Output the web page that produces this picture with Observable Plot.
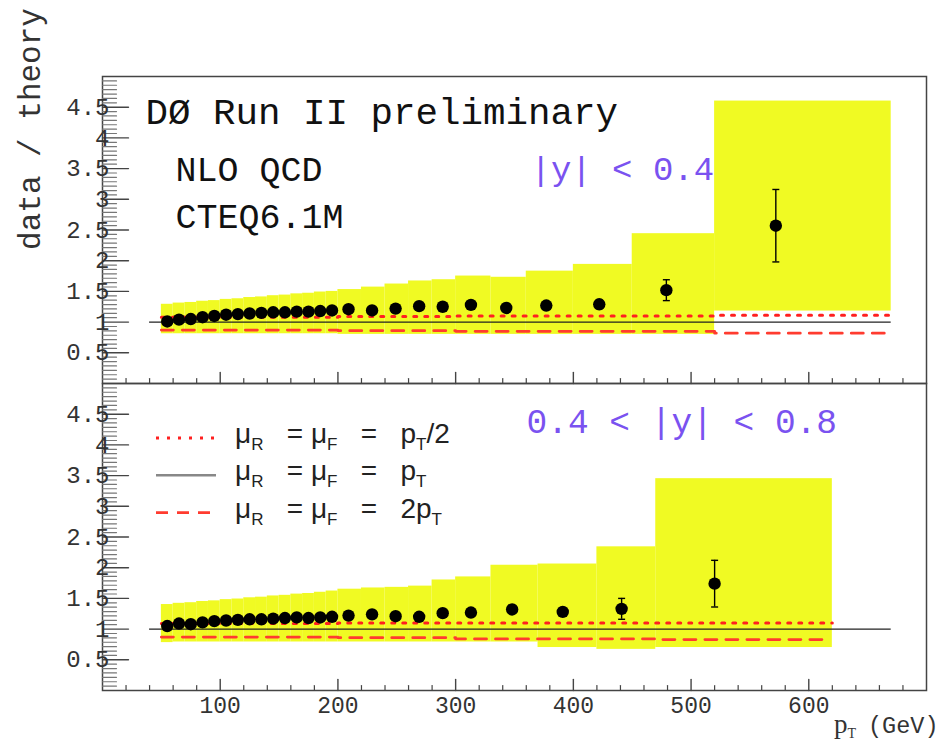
<!DOCTYPE html>
<html><head><meta charset="utf-8">
<script src="https://cdn.jsdelivr.net/npm/d3@7"></script>
<script src="https://cdn.jsdelivr.net/npm/@observablehq/plot@0.6"></script>
<style>
body{margin:0;background:#fff;}
#chart{width:940px;}
#chart svg{display:block;overflow:visible;}
</style></head><body><div id="chart"></div>
<script>
const MONO = "Liberation Mono, DejaVu Sans Mono, monospace";
const YELLOW = "#f0fa23";
const BLUE = "#7a52f0";

// ---------- top panel: |y| < 0.4 ----------
const topBinEdges = [50,60,70,80,90,100,110,120,130,140,150,160,170,180,190,200,220,240,260,280,300,330,360,400,450,520,670];
const topBandHigh = [1.29,1.31,1.32,1.34,1.35,1.37,1.38,1.40,1.41,1.43,1.44,1.46,1.47,1.49,1.50,1.53,1.57,1.62,1.67,1.69,1.75,1.73,1.83,1.94,2.44,4.60];
const topBandLow  = [0.81,0.81,0.81,0.81,0.81,0.81,0.81,0.81,0.81,0.81,0.81,0.81,0.81,0.81,0.81,0.80,0.80,0.80,0.80,0.80,0.80,0.80,0.80,0.80,0.80,1.18];
const topPt    = [55,65,75,85,95,105,115,125,135,145,155,165,175,185,195,209,229,249,269,289,313,343,377,422,479,572];
const topRatio = [1.01,1.04,1.05,1.08,1.10,1.12,1.13,1.14,1.15,1.16,1.16,1.17,1.17,1.18,1.19,1.21,1.19,1.22,1.26,1.25,1.28,1.23,1.27,1.29,1.52,2.57];
const topErr   = [0.01,0.01,0.01,0.01,0.01,0.01,0.01,0.01,0.01,0.01,0.01,0.01,0.01,0.01,0.01,0.02,0.02,0.02,0.02,0.03,0.03,0.04,0.05,0.07,0.17,0.59];
const topHalfEdges = [50,200,300,520,670];
const topHalfVals  = [1.08,1.09,1.10,1.11];
const topTwoEdges  = [50,200,300,520,670];
const topTwoVals   = [0.87,0.86,0.85,0.82];

// ---------- bottom panel: 0.4 < |y| < 0.8 ----------
const botBinEdges = [50,60,70,80,90,100,110,120,130,140,150,160,170,180,190,200,220,240,260,280,300,330,370,420,470,620];
const botBandHigh = [1.40,1.42,1.43,1.45,1.46,1.48,1.49,1.51,1.52,1.54,1.55,1.57,1.58,1.60,1.62,1.65,1.67,1.68,1.70,1.80,1.85,2.04,2.06,2.34,3.45];
const botBandLow  = [0.78,0.79,0.79,0.79,0.79,0.79,0.79,0.79,0.79,0.79,0.79,0.79,0.79,0.79,0.79,0.79,0.79,0.79,0.79,0.79,0.79,0.79,0.70,0.67,0.70];
const botPt    = [55,65,75,85,95,105,115,125,135,145,155,165,175,185,195,209,229,249,269,289,313,348,391,441,520];
const botRatio = [1.05,1.09,1.08,1.11,1.13,1.14,1.15,1.16,1.16,1.17,1.18,1.19,1.18,1.19,1.20,1.22,1.24,1.21,1.20,1.26,1.27,1.32,1.28,1.33,1.74];
const botErr   = [0.01,0.01,0.01,0.01,0.01,0.01,0.01,0.01,0.01,0.01,0.01,0.01,0.01,0.01,0.01,0.02,0.02,0.02,0.02,0.03,0.03,0.05,0.06,0.17,0.38];
const botHalfEdges = [50,200,300,470,620];
const botHalfVals  = [1.09,1.10,1.10,1.10];
const botTwoEdges  = [50,200,300,470,615];
const botTwoVals   = [0.87,0.86,0.84,0.83];

const refLine = [40, 670];
const xDomain = [0, 700];
const yDomain = [0, 5];
const xMajor = [100,200,300,400,500,600];
const xMinor = [20,40,60,80,120,140,160,180,220,240,260,280,320,340,360,380,420,440,460,480,520,540,560,580,620,640,660,680];
const yMajor = [0.5,1,1.5,2,2.5,3,3.5,4,4.5];
const yMinor = d3.range(1, 70).filter(k => k % 7 !== 0).map(k => k * 0.5 / 7);

const capSymbol = { draw(ctx, size) { const r = Math.sqrt(size / Math.PI); ctx.moveTo(-r, 0); ctx.lineTo(r, 0); } };
const tickShape = { draw(ctx, l) { ctx.moveTo(0, 0); ctx.lineTo(0, -l); } };

function stepData(edges, vals) {
  return edges.map((x, i) => ({x, y: vals[Math.min(i, vals.length - 1)]}));
}

function panel(o) {
  const bins = o.lo.map((l, i) => ({x1: o.edges[i], x2: o.edges[i + 1], y1: l, y2: o.hi[i]}));
  const pts = o.pt.map((p, i) => ({x: p, y: o.ratio[i], e: o.err[i]}));
  const marks = [
    Plot.rect(bins, {x1: "x1", x2: "x2", y1: "y1", y2: "y2", fill: YELLOW}),
    Plot.ruleY([1], {x1: refLine[0], x2: refLine[1], stroke: "#222", strokeWidth: 1.4}),
    Plot.line(stepData(o.halfEdges, o.halfVals), {x: "x", y: "y", curve: "step-after", stroke: "#ff2020", strokeWidth: 3, strokeDasharray: "3 8"}),
    Plot.line(stepData(o.twoEdges, o.twoVals), {x: "x", y: "y", curve: "step-after", stroke: "#ff3b2f", strokeWidth: 2.8, strokeDasharray: "12 9"}),
    Plot.ruleX(pts, {x: "x", y1: d => d.y - d.e, y2: d => d.y + d.e, stroke: "#000", strokeWidth: 1.4}),
    Plot.dot(pts, {x: "x", y: d => d.y + d.e, symbol: capSymbol, r: 3.5, fill: "none", stroke: "#000", strokeWidth: 1.4}),
    Plot.dot(pts, {x: "x", y: d => d.y - d.e, symbol: capSymbol, r: 3.5, fill: "none", stroke: "#000", strokeWidth: 1.4}),
    Plot.dot(pts, {x: "x", y: "y", r: 6.2, fill: "#000", stroke: "none"}),
    Plot.frame({stroke: "#444", strokeWidth: 1.5}),
    // inward ticks on the left axis
    Plot.vector(yMinor, {x: () => xDomain[0], y: d => d, rotate: 90, length: 14, anchor: "start", shape: tickShape, stroke: "#777", strokeWidth: 1.2}),
    Plot.vector(yMajor, {x: () => xDomain[0], y: d => d, rotate: 90, length: 26, anchor: "start", shape: tickShape, stroke: "#444", strokeWidth: 1.4}),
    // inward ticks on the bottom axis
    Plot.vector(xMinor, {x: d => d, y: () => yDomain[0], rotate: 0, length: 5, anchor: "start", shape: tickShape, stroke: "#444", strokeWidth: 1.2}),
    Plot.vector(xMajor, {x: d => d, y: () => yDomain[0], rotate: 0, length: 11, anchor: "start", shape: tickShape, stroke: "#444", strokeWidth: 1.4}),
    Plot.axisY(yMajor, {anchor: "left", tickSize: 0, tickPadding: -7, label: null, fontFamily: MONO, fontSize: 24, fill: "#333", tickFormat: d => String(d)}),
    ...o.extra
  ];
  return Plot.plot({
    width: 940, height: o.height,
    marginLeft: 102, marginRight: 14, marginTop: o.marginTop, marginBottom: o.marginBottom,
    style: {background: "transparent", overflow: "visible"},
    x: {domain: xDomain},
    y: {domain: yDomain},
    marks
  });
}

const topSvg = panel({
  edges: topBinEdges, lo: topBandLow, hi: topBandHigh, pt: topPt, ratio: topRatio, err: topErr,
  halfEdges: topHalfEdges, halfVals: topHalfVals, twoEdges: topTwoEdges, twoVals: topTwoVals,
  height: 383, marginTop: 76, marginBottom: 0,
  extra: [
    Plot.axisX([], {anchor: "bottom", tickSize: 0, label: null}),
    Plot.text(["DØ Run II preliminary"], {text: d => d, frameAnchor: "top-left", dx: 43, dy: 47, textAnchor: "start", lineAnchor: "bottom", fontFamily: MONO, fontSize: 37.5, fill: "#111"}),
    Plot.text(["NLO QCD"], {text: d => d, frameAnchor: "top-left", dx: 73, dy: 104, textAnchor: "start", lineAnchor: "bottom", fontFamily: MONO, fontSize: 35, fill: "#111"}),
    Plot.text(["CTEQ6.1M"], {text: d => d, frameAnchor: "top-left", dx: 73, dy: 151, textAnchor: "start", lineAnchor: "bottom", fontFamily: MONO, fontSize: 35, fill: "#111"}),
    Plot.text(["|y| < 0.4"], {text: d => d, frameAnchor: "top-left", dx: 428, dy: 103, textAnchor: "start", lineAnchor: "bottom", fontFamily: MONO, fontSize: 34, fill: BLUE})
  ]
});

const botSvg = panel({
  edges: botBinEdges, lo: botBandLow, hi: botBandHigh, pt: botPt, ratio: botRatio, err: botErr,
  halfEdges: botHalfEdges, halfVals: botHalfVals, twoEdges: botTwoEdges, twoVals: botTwoVals,
  height: 364, marginTop: 0, marginBottom: 57,
  extra: [
    Plot.text(["0.4 < |y| < 0.8"], {text: d => d, frameAnchor: "top-left", dx: 424, dy: 49, textAnchor: "start", lineAnchor: "bottom", fontFamily: MONO, fontSize: 34.5, fill: BLUE}),
    Plot.axisX(xMajor, {anchor: "bottom", tickSize: 0, tickPadding: 6, label: null, fontFamily: MONO, fontSize: 23, fill: "#333"})
  ]
});

const chart = document.getElementById("chart");
chart.appendChild(topSvg);
chart.appendChild(botSvg);

// y-axis title
d3.select(topSvg).append("text")
  .attr("transform", "translate(40,129) rotate(-90)")
  .attr("text-anchor", "middle")
  .attr("font-family", MONO).attr("font-size", 31).attr("fill", "#333")
  .text("data / theory");

// legend (bottom panel)
const lg = d3.select(botSvg).append("g");
const legendRows = [
  {dash: "3 8", stroke: "#ff2020", w: 3, label: "/2", pre: ""},
  {dash: null, stroke: "#888", w: 2.5, label: "", pre: ""},
  {dash: "12 9", stroke: "#ff3b2f", w: 2.8, label: "", pre: "2"}
];
legendRows.forEach((r, i) => {
  const yc = 55 + i * 37.3;
  lg.append("line").attr("x1", 156).attr("x2", 216).attr("y1", yc).attr("y2", yc)
    .attr("stroke", r.stroke).attr("stroke-width", r.w).attr("stroke-dasharray", r.dash);
  const t = lg.append("text").attr("x", 235).attr("y", yc + 5).attr("text-anchor", "start")
    .attr("font-family", "Liberation Sans, DejaVu Sans, sans-serif")
    .attr("font-size", 28).attr("fill", "#222").style("white-space", "pre");
  t.append("tspan").text("μ");
  t.append("tspan").attr("font-size", 17).attr("dy", 7).text("R");
  t.append("tspan").attr("dy", -7).text("   = μ");
  t.append("tspan").attr("font-size", 17).attr("dy", 7).text("F");
  t.append("tspan").attr("dy", -7).text("   =   " + r.pre + "p");
  t.append("tspan").attr("font-size", 17).attr("dy", 7).text("T");
  t.append("tspan").attr("dy", -7).text(r.label);
});

// x-axis title
const xt = d3.select(botSvg).append("text").attr("x", 834).attr("y", 350).attr("text-anchor", "start")
  .attr("font-family", "Liberation Serif, serif").attr("font-size", 27).attr("fill", "#333");
xt.append("tspan").text("p");
xt.append("tspan").attr("font-size", 14).attr("dy", 5).text("T");
xt.append("tspan").attr("x", 868).attr("dy", -5).attr("font-family", MONO).attr("font-size", 23.5).text("(GeV)");
</script></body></html>
